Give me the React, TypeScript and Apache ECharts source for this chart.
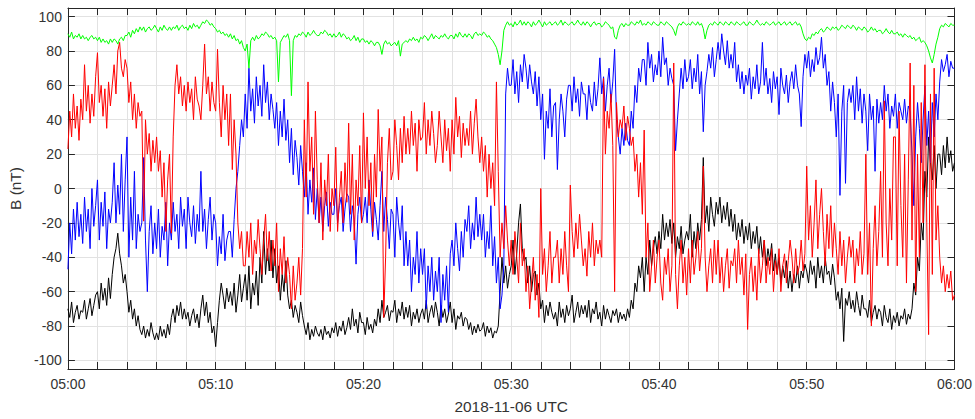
import React, { useEffect, useRef } from "react";
import * as echarts from "echarts";

// sampling step of the typed series, in minutes after 05:00 (8 samples per minute)
const STEP_MIN = 0.125;

// |B| (green)
const greenB = [
  90, 88, 91, 87, 89, 88, 90, 87, // 05:00
  89, 87, 88, 86, 88, 89, 87, 88,
  86, 88, 85, 87, 85, 86, 84, 87,
  85, 87, 86, 84, 87, 88, 86, 89,
  89, 91, 88, 92, 90, 93, 91, 94,
  92, 94, 91, 93, 94, 92, 93, 95, // 05:05
  93, 91, 94, 92, 95, 93, 92, 94,
  92, 94, 93, 95, 92, 94, 95, 93,
  94, 92, 95, 93, 96, 94, 95, 93,
  95, 97, 96, 98, 97, 95, 96, 94,
  93, 91, 92, 90, 91, 89, 90, 88, // 05:10
  90, 87, 89, 86, 87, 84, 86, 82,
  80, 84, 70, 86, 88, 86, 89, 87,
  88, 90, 89, 91, 90, 88, 89, 87,
  88, 86, 62, 85, 87, 89, 88, 90,
  86, 54, 86, 89, 88, 90, 89, 91, // 05:15
  90, 88, 91, 89, 90, 92, 90, 89,
  89, 91, 90, 92, 91, 89, 90, 88,
  90, 88, 89, 91, 88, 90, 89, 87,
  88, 86, 87, 89, 86, 88, 85, 87,
  87, 85, 86, 84, 86, 85, 83, 85, // 05:20
  85, 83, 78, 84, 86, 84, 85, 83,
  84, 85, 83, 86, 77, 84, 85, 86,
  85, 87, 86, 88, 86, 87, 85, 88,
  87, 89, 88, 86, 88, 90, 87, 89,
  88, 87, 89, 88, 90, 88, 87, 89, // 05:25
  89, 87, 90, 88, 91, 89, 88, 90,
  88, 90, 89, 87, 90, 91, 89, 90,
  89, 91, 90, 88, 89, 87, 86, 84,
  82, 78, 72, 80, 92, 95, 97, 95,
  96, 94, 97, 95, 96, 98, 95, 97, // 05:30
  95, 97, 96, 94, 97, 95, 96, 98,
  96, 94, 97, 95, 96, 97, 95, 96,
  97, 95, 96, 98, 95, 97, 96, 95,
  96, 97, 95, 96, 98, 96, 95, 97,
  95, 97, 96, 94, 96, 97, 95, 96, // 05:35
  96, 94, 95, 97, 96, 95, 93, 94,
  88, 87, 92, 95, 96, 94, 96, 95,
  95, 97, 96, 95, 97, 96, 98, 95,
  96, 95, 97, 96, 95, 97, 96, 95,
  95, 97, 96, 95, 97, 96, 95, 94, // 05:40
  92, 89, 94, 96, 95, 97, 96, 95,
  96, 95, 97, 96, 95, 97, 95, 96,
  93, 87, 92, 95, 96, 95, 97, 96,
  95, 97, 96, 95, 97, 96, 95, 97,
  96, 95, 97, 96, 95, 96, 97, 95, // 05:45
  95, 97, 96, 95, 96, 98, 96, 95,
  96, 95, 97, 96, 95, 96, 97, 95,
  96, 97, 95, 96, 97, 95, 96, 97,
  95, 96, 97, 95, 96, 94, 90, 87,
  86, 88, 87, 90, 89, 91, 90, 92, // 05:50
  93, 91, 92, 94, 93, 92, 94, 93,
  94, 92, 93, 95, 94, 93, 95, 94,
  93, 95, 94, 92, 94, 93, 92, 94,
  93, 91, 92, 94, 92, 93, 91, 92,
  92, 90, 91, 93, 91, 90, 92, 90, // 05:55
  90, 91, 89, 90, 88, 90, 89, 88,
  89, 87, 88, 86, 87, 88, 85, 86,
  85, 83, 80, 76, 73, 78, 84, 88,
  93, 95, 94, 96, 95, 94, 96, 95,
  95, // 06:00
];

// blue component
const blueB = [
  -47, -20, -38, -12, -30, -8, -28, -15, // 05:00
  -32, -5, -25, -12, -35, 0, -22, -10,
  5, -30, -8, -22, -2, -35, -12, -20,
  -8, 15, -20, 2, -15, 20, -25, 5,
  30, -40, -5, -30, 10, -35, -15, -25,
  -20, 18, -30, -60, -25, -10, -38, -20, // 05:05
  -35, -12, -40, -22, -30, -8, -45, -20,
  -30, -8, -25, -15, -35, -5, -22, -12,
  -35, -5, -20, -28, -10, -32, -15, -25,
  10, -25, -12, -35, -18, -5, -30, -15,
  -20, -45, -28, -38, -15, -42, -30, -25, // 05:10
  -25, -40, -18, 0, 10, 25, 40, 30,
  55, 35, 70, 45, 58, 38, 65, 48,
  60, 42, 72, 50, 62, 40, 55, 46,
  35, 50, 25, 45, 30, 52, 28, 40,
  15, 35, 8, 28, 18, 2, 25, 10, // 05:15
  -5, 15, -15, 5, -8, 12, -18, 0,
  -20, -5, -25, -10, -2, -22, -8, -15,
  -15, 0, -20, -10, -5, -25, -12, -3,
  -5, -25, -10, -18, -44, -15, -5, -20,
  -15, -5, -20, 5, -12, -28, -8, -18, // 05:20
  -30, -10, 10, -25, -5, -18, -35, -12,
  -15, -40, -5, -20, -30, -10, -45, -25,
  -45, -30, -60, -40, -50, -25, -55, -35,
  -50, -35, -70, -45, -60, -40, -65, -48,
  -60, -40, -78, -50, -65, -45, -72, -38, // 05:25
  -30, -45, -20, -35, -48, -25, -40, -18,
  -25, -10, -35, -20, -30, -5, -28, -15,
  -30, -15, -40, -25, -35, -10, -45, -28,
  -55, -40, -70, -62, -45, 55, 70, 60,
  60, 75, 55, 68, 50, 72, 62, 78, // 05:30
  70, 58, 72, 62, 55, 68, 48, 65,
  40, 55, 17, 45, 35, 58, 30, 48,
  50, 11, 40, 55, 45, 30, 52, 60,
  60, 45, 65, 50, 58, 42, 62, 55,
  55, 40, 60, 50, 45, 62, 48, 58, // 05:35
  76, 55, 65, 45, 60, 70, 50, 62,
  81, 40, 30, 20, 35, 25, 38, 28,
  25, 45, 35, 60, 50, 70, 62, 75,
  75, 60, 85, 70, 78, 62, 72, 66,
  80, 65, 88, 72, 76, 60, 70, 64, // 05:40
  60, 22, 40, 55, 70, 58, 75, 62,
  65, 75, 58, 70, 62, 78, 55, 68,
  33, 60, 68, 78, 70, 82, 65, 75,
  85, 75, 90, 80, 72, 86, 70, 78,
  70, 85, 62, 72, 58, 68, 55, 66, // 05:45
  60, 70, 52, 65, 58, 72, 55, 62,
  85, 60, 70, 55, 64, 50, 68, 58,
  65, 43, 70, 60, 55, 66, 50, 62,
  68, 58, 72, 60, 55, 36, 65, 78,
  70, 80, 65, 75, 68, 82, 72, 76, // 05:50
  88, 70, 78, 60, 68, 45, 62, 50,
  30, 55, -4, 45, 60, 3, 50, 58,
  50, 60, 40, 65, 45, 58, 38, 55,
  45, 22, 55, 40, 48, 10, 52, 38,
  50, 40, 60, 45, 55, 35, 48, 42, // 05:55
  55, 35, 50, 45, 40, 52, 38, 48,
  45, 20, -10, 30, 50, 35, 15, 40,
  60, 25, 45, 15, 50, 30, 55, 40,
  62, 75, 68, 72, 78, 65, 74, 70,
  70, // 06:00
];

// red component
const redB = [
  23, 45, 30, 55, 35, 48, 28, 52, // 05:00
  40, 72, 45, 60, 38, 55, 42, 65,
  79, 50, 60, 42, 58, 35, 62, 48,
  60, 72, 55, 80, 85, 70, 65, 75,
  70, 50, 62, 40, 55, 35, 50, 42,
  45, -19, 40, 20, 32, 10, 28, 15, // 05:05
  30, 10, 22, -5, 15, -25, 5, 20,
  -26, 30, 60, 72, 55, 65, 48, 60,
  45, 62, 50, 58, 40, 65, 52, 48,
  40, 60, 84, 55, 65, 45, 62, 50,
  45, 81, 50, 30, 60, 40, 55, 25, // 05:10
  55, 11, 40, 20, -20, -35, -25, -45,
  -45, -25, -40, -20, -50, -30, -38, -18,
  -35, -50, -30, -15, -42, -25, -48, -30,
  -45, -20, -60, -35, -50, -28, -55, -40,
  -50, -70, -45, -65, -55, -40, -62, -35, // 05:15
  40, -5, 62, 10, 30, -15, 45, 5,
  -20, 15, -30, 5, -10, 20, -25, 0,
  -10, 24, -25, -5, 10, -20, 15, -8,
  38, -15, 20, -30, 5, -10, 25, -20,
  44, 0, 30, -10, 15, -25, 20, -5, // 05:20
  46, 10, 30, -75, -40, 15, 35, 5,
  10, 40, 25, 5, 35, 15, 42, 20,
  35, 20, 45, 25, 38, 10, 40, 28,
  30, 50, 20, 40, 25, 45, 32, 15,
  25, 45, 30, 15, 40, 22, 35, 10, // 05:25
  40, 20, 53, 30, 42, 18, 38, 25,
  35, 25, 45, 20, 38, 52, 30, 15,
  30, 10, 25, -5, 20, 0, 15, -10,
  62, 10, -40, -20, -35, -10, -30, -45,
  -30, -50, -25, -40, -55, -20, -45, -35, // 05:30
  -60, -45, -70, -55, -40, -65, -50, -75,
  0, -50, -35, -60, -45, -25, -55, -40,
  -40, -30, -55, -35, -50, -25, -45, -60,
  2, -25, -40, -20, -35, -15, -30, -45,
  -35, -51, -25, -40, -20, -45, -30, -38, // 05:35
  -30, -40, 64, 20, 45, 35, 55, 25,
  -60, 50, 30, 40, 35, 48, 28, 42,
  35, 25, 30, 10, 20, -5, 15, -15,
  34, -40, -20, -60, -45, -30, -55, -40,
  -30, -55, -65, -40, -50, -35, -60, -45, // 05:40
  73, -50, -70, -45, -30, -55, -40, -62,
  -35, -55, -30, -50, -40, -25, -48, -35,
  13, -40, -60, -45, -35, -55, -30, -50,
  -30, -55, -40, -60, -45, -35, -58, -42,
  -45, -35, -55, -30, -50, -40, -62, -38, // 05:45
  -82, -50, -40, -60, -45, -65, -35, -55,
  -45, -30, -55, -40, -50, -35, -60, -42,
  -50, -35, -60, -45, -38, -55, -42, -30,
  -40, -55, -35, -50, -45, -30, -48, -38,
  13, -30, -10, -40, -20, 5, -35, -15, // 05:50
  0, -25, -45, -15, -35, -10, -40, -20,
  -35, -50, -25, -45, -30, -55, -40, -28,
  -40, -30, -55, -35, -45, -25, -50, -38,
  20, -50, -20, -80, -35, -10, -45, -25,
  10, -40, 51, -20, -45, 0, -30, 30, // 05:55
  30, -45, 45, -10, -40, 20, -55, 5,
  73, -30, 60, -60, 20, -40, 50, -20,
  72, -20, -85, 55, -50, 70, -30, -10,
  -40, -55, -45, -60, -50, -58, -48, -65,
  -62, // 06:00
];

// black component
const blackB = [
  -70, -75, -66, -78, -72, -68, -76, -71, // 05:00
  -72, -65, -76, -70, -64, -74, -68, -62,
  -60, -70, -55, -65, -58, -68, -52, -64,
  -50, -40, -35, -26, -38, -45, -55, -50,
  -60, -72, -65, -76, -70, -80, -74, -82,
  -85, -80, -87, -82, -86, -78, -84, -88, // 05:05
  -84, -88, -80, -86, -82, -87, -79, -85,
  -75, -70, -78, -68, -74, -66, -76, -70,
  -76, -72, -80, -74, -70, -78, -73, -81,
  -70, -62, -74, -66, -78, -72, -84, -80,
  -92, -78, -65, -55, -62, -70, -58, -66, // 05:10
  -60, -68, -55, -72, -62, -50, -66, -58,
  -50, -65, -45, -70, -55, -62, -48, -68,
  -40, -55, -25, -50, -35, -48, -30, -52,
  -35, -55, -45, -65, -50, -60, -42, -62,
  -70, -65, -75, -68, -72, -78, -66, -74, // 05:15
  -80, -85, -78, -88, -82, -86, -80, -84,
  -86, -82, -88, -80, -85, -83, -87, -81,
  -84, -78, -86, -80, -83, -77, -85, -81,
  -75, -82, -70, -80, -76, -84, -72, -78,
  -78, -85, -75, -82, -79, -84, -76, -80, // 05:20
  -70, -78, -65, -75, -72, -68, -77, -71,
  -72, -65, -78, -70, -74, -66, -76, -69,
  -75, -68, -80, -72, -76, -70, -78, -73,
  -70, -76, -65, -78, -72, -68, -75, -66,
  -72, -80, -68, -75, -70, -78, -73, -66, // 05:25
  -78, -70, -82, -74, -76, -72, -80, -75,
  -76, -82, -78, -85, -80, -84, -79, -83,
  -82, -78, -86, -80, -84, -81, -87, -83,
  -84, -80, -60, -40, -55, -45, -58, -50,
  -45, -30, -50, -38, -20, -9, -35, -42, // 05:30
  -40, -55, -45, -60, -50, -48, -62, -55,
  -70, -65, -78, -68, -74, -66, -72, -76,
  -72, -80, -66, -75, -70, -78, -68, -74,
  -70, -62, -78, -72, -66, -75, -68, -73,
  -68, -75, -65, -78, -70, -73, -66, -76, // 05:35
  -72, -80, -68, -76, -70, -74, -78, -71,
  -74, -70, -78, -72, -76, -73, -77, -70,
  -75, -65, -70, -55, -60, -45, -52, -40,
  -60, -40, -50, -30, -45, -35, -28, -38,
  -25, -35, -15, -30, -20, -28, -18, -32, // 05:40
  -20, -40, -28, -35, -22, -38, -30, -25,
  -30, -15, -40, -25, -35, -20, -30, -18,
  18, -20, -10, -25, -5, -15, -22, -8,
  -15, -5, -20, -10, -18, -8, -22, -12,
  -25, -15, -30, -20, -28, -18, -32, -22, // 05:45
  -30, -20, -35, -25, -32, -22, -38, -28,
  -40, -30, -45, -35, -42, -32, -48, -38,
  -50, -40, -55, -45, -52, -42, -58, -48,
  -60, -50, -55, -45, -58, -48, -52, -44,
  -48, -55, -42, -50, -45, -58, -40, -52, // 05:50
  -45, -55, -40, -50, -48, -56, -44, -52,
  -65, -60, -70, -58, -89, -64, -68, -60,
  -70, -65, -72, -60, -68, -74, -62, -70,
  -70, -75, -65, -78, -72, -68, -76, -70,
  -72, -80, -68, -75, -78, -70, -82, -74, // 05:55
  -78, -72, -80, -74, -76, -70, -79, -73,
  -76, -70, -55, -62, -40, -48, -20, -30,
  10, -5, 30, 15, 5, 25, 0, 20,
  20, 8, 25, 12, 30, 15, 22, 10,
  15, // 06:00
];

const yTicks = [-100, -80, -60, -40, -20, 0, 20, 40, 60, 80, 100];

function fmtTime(m: number): string {
  const h = 5 + Math.floor(m / 60);
  const mm = Math.round(m % 60);
  return `${String(h).padStart(2, "0")}:${String(mm).padStart(2, "0")}`;
}

export default function App() {
  const ref = useRef<HTMLDivElement>(null);
  useEffect(() => {
    document.body.style.margin = "0";
    const chart = echarts.init(ref.current!, null, { renderer: "svg" });
    const pairs = (arr: number[]) => arr.map((v, i) => [i * STEP_MIN, v]);
    const font = "'Liberation Sans', Arial, Helvetica, sans-serif";
    const axisColor = "#262626";
    const textColor = "#333333";
    const gridColor = "#e2e2e2";
    const tick = { show: true, inside: true, length: 7, lineStyle: { color: axisColor, width: 1 } };
    const line = (name: string, data: number[], color: string) => ({
      name,
      type: "line",
      data: pairs(data),
      showSymbol: false,
      symbol: "none",
      lineStyle: { color, width: 1 },
      itemStyle: { color },
      silent: true,
    });
    chart.setOption({
      animation: false,
      backgroundColor: "#ffffff",
      textStyle: { fontFamily: font },
      grid: { left: 63, right: 19, top: 8, bottom: 41 },
      xAxis: [
        {
          type: "value",
          min: 0,
          max: 60,
          interval: 2,
          position: "bottom",
          name: "2018-11-06 UTC",
          nameLocation: "middle",
          nameGap: 30,
          nameTextStyle: { color: textColor, fontSize: 15.4, fontFamily: font },
          axisLine: { show: true, onZero: false, lineStyle: { color: axisColor, width: 1 } },
          axisTick: tick,
          axisLabel: {
            color: textColor,
            fontSize: 14,
            fontFamily: font,
            margin: 8,
            formatter: (v: number) => (v % 10 === 0 ? fmtTime(v) : ""),
          },
          splitLine: { show: true, lineStyle: { color: gridColor, width: 1 } },
        },
        {
          type: "value",
          min: 0,
          max: 60,
          interval: 2,
          position: "top",
          axisLine: { show: true, onZero: false, lineStyle: { color: axisColor, width: 1 } },
          axisTick: tick,
          axisLabel: { show: false },
          splitLine: { show: false },
        },
      ],
      yAxis: [
        {
          type: "value",
          min: -105,
          max: 105,
          position: "left",
          name: "B (nT)",
          nameLocation: "middle",
          nameRotate: 90,
          nameGap: 43,
          nameTextStyle: { color: textColor, fontSize: 15.4, fontFamily: font },
          axisLine: { show: true, onZero: false, lineStyle: { color: axisColor, width: 1 } },
          axisTick: { ...tick, customValues: yTicks },
          axisLabel: { color: textColor, fontSize: 14, fontFamily: font, margin: 6, customValues: yTicks },
          splitLine: { show: true, lineStyle: { color: gridColor, width: 1 } },
        },
        {
          type: "value",
          min: -105,
          max: 105,
          position: "right",
          axisLine: { show: true, onZero: false, lineStyle: { color: axisColor, width: 1 } },
          axisTick: { ...tick, customValues: yTicks },
          axisLabel: { show: false, customValues: yTicks },
          splitLine: { show: false },
        },
      ],
      series: [
        line("Black", blackB, "#000000"),
        line("Blue", blueB, "#0000ff"),
        line("Red", redB, "#ff0000"),
        line("|B|", greenB, "#00ff00"),
      ],
    });
    return () => chart.dispose();
  }, []);
  return <div ref={ref} style={{ width: 975, height: 419 }} />;
}
